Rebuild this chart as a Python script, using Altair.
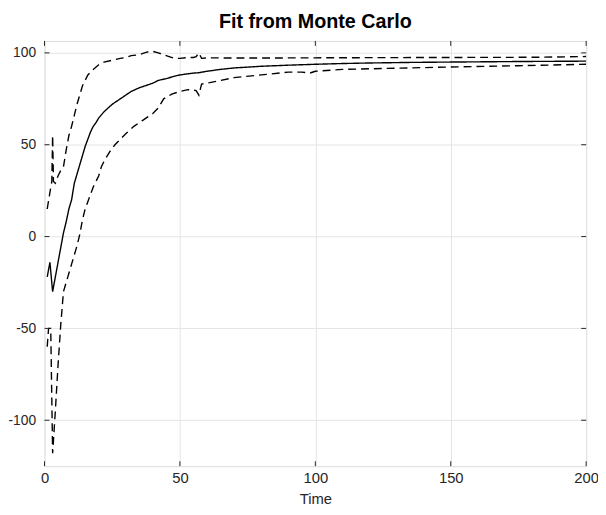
import altair as alt
import pandas as pd

# ---- data ----
t_mean = [1, 2, 3, 4, 5, 6, 7, 8, 9, 10, 11, 12, 13, 14, 15, 16, 17, 18, 19, 20,
          22, 25, 28, 30, 32, 35, 38, 40, 42, 45, 48, 50, 55, 57, 60, 65, 70, 80,
          90, 100, 110, 120, 135, 150, 175, 200]
v_mean = [-22, -14, -30, -22, -14, -6, 2, 8, 15, 20, 29, 34, 39, 44, 49, 53, 57, 60, 62, 64.5,
          68, 72, 75, 77, 79, 81, 82.5, 83.5, 85, 86, 87.3, 88, 89, 89.2, 90, 91, 91.8, 92.7,
          93.3, 93.8, 94.2, 94.5, 94.8, 95, 95.3, 95.5]

t_upper = [1, 2, 2.7, 3, 3.3, 4, 5, 6, 7, 8, 9, 10, 11, 12, 13, 14, 15, 16, 18, 20,
           22, 25, 28, 30, 32, 35, 38, 40, 42, 44, 46, 48, 50, 53, 55, 56, 57, 58, 60,
           70, 80, 100, 120, 150, 180, 200]
v_upper = [15, 24, 30, 55, 30, 29, 33, 36, 38, 47, 55, 60, 66, 72, 77, 82, 85, 88, 91, 93.5,
           95, 96, 97, 97.5, 98.5, 99, 100.5, 100.8, 100, 99, 98, 97, 97, 97.5, 97.5, 98, 100, 97, 97.3,
           97.2, 97.2, 97.3, 97.4, 97.5, 97.6, 98]

t_lower = [1, 1.5, 2.3, 3, 4, 5, 6, 7, 8, 9, 10, 11, 12, 13, 14, 15, 16, 17, 18, 19, 20,
           21, 22, 24, 26, 28, 30, 33, 36, 38, 40, 42, 44, 47, 50, 53, 56, 57, 58, 60,
           65, 70, 80, 90, 95, 98, 100, 110, 125, 150, 175, 200]
v_lower = [-60, -50, -50, -118, -95, -70, -48, -30, -25, -20, -15, -10, -5, 1, 9, 15, 19, 23, 27, 30, 33,
           38, 41, 46, 50, 53, 56, 60, 63, 65, 67, 70, 75, 77.5, 79, 80, 79.5, 77, 83, 83.5,
           85, 86.5, 88, 89.5, 89.5, 89, 90, 91, 91.5, 92.3, 93, 93.8]

x_ticks = [0, 50, 100, 150, 200]
y_ticks = [-100, -50, 0, 50, 100]

W, H = 549, 431
FONT = "Liberation Sans"
DARK = "#262626"
FS = 15

df = pd.concat([
    pd.DataFrame({"t": t_mean, "v": v_mean, "series": "mean"}),
    pd.DataFrame({"t": t_upper, "v": v_upper, "series": "upper"}),
    pd.DataFrame({"t": t_lower, "v": v_lower, "series": "lower"}),
], ignore_index=True)

xs = alt.Scale(domain=[0, 200], nice=False)
ys = alt.Scale(domain=[-125, 106.5], nice=False)

x_axis = alt.Axis(values=x_ticks, title="Time", grid=True, domain=False, ticks=False,
                  labelPadding=5, titlePadding=6, labelFont=FONT, labelFontSize=FS,
                  labelColor=DARK, titleFont=FONT, titleFontSize=FS, titleFontWeight="normal",
                  titleColor=DARK, gridColor="#e4e4e4", labelFlush=False)
y_axis = alt.Axis(values=y_ticks, title=None, grid=True, domain=False, ticks=False,
                  labelPadding=9, labelFont=FONT, labelFontSize=14, labelColor=DARK,
                  gridColor="#e4e4e4", labelExpr="'' + datum.value")

lines = alt.Chart(df).mark_line(strokeWidth=1.4, color="black", clip=True).encode(
    x=alt.X("t:Q", scale=xs, axis=x_axis),
    y=alt.Y("v:Q", scale=ys, axis=y_axis),
    detail="series:N",
    order="t:Q",
    strokeDash=alt.StrokeDash("series:N", scale=alt.Scale(domain=["mean", "upper", "lower"],
                                                          range=[[1, 0], [8, 5], [8, 5]]),
                              legend=None),
)

xt = pd.DataFrame({"t": x_ticks})
yt = pd.DataFrame({"v": y_ticks})
tick_style = dict(color=DARK, strokeWidth=1)
xb = alt.Chart(xt).mark_rule(**tick_style).encode(x=alt.X("t:Q", scale=xs), y=alt.value(H), y2=alt.value(H - 5))
xtp = alt.Chart(xt).mark_rule(**tick_style).encode(x=alt.X("t:Q", scale=xs), y=alt.value(0), y2=alt.value(5))
yl = alt.Chart(yt).mark_rule(**tick_style).encode(y=alt.Y("v:Q", scale=ys), x=alt.value(0), x2=alt.value(5))
yr = alt.Chart(yt).mark_rule(**tick_style).encode(y=alt.Y("v:Q", scale=ys), x=alt.value(W), x2=alt.value(W - 5))

chart = alt.layer(lines, xb, xtp, yl, yr).properties(
    width=W, height=H,
    title=alt.TitleParams("Fit from Monte Carlo", fontSize=20, fontWeight="bold", font=FONT,
                          color="black", anchor="middle", offset=9),
    autosize=alt.AutoSizeParams(type="none"),
    padding={"left": 37, "top": 30, "right": 12, "bottom": 38},
).configure_view(stroke=DARK, strokeWidth=1).configure(background="white")

chart.save("out.html", embed_options={"renderer": "svg", "actions": False})
